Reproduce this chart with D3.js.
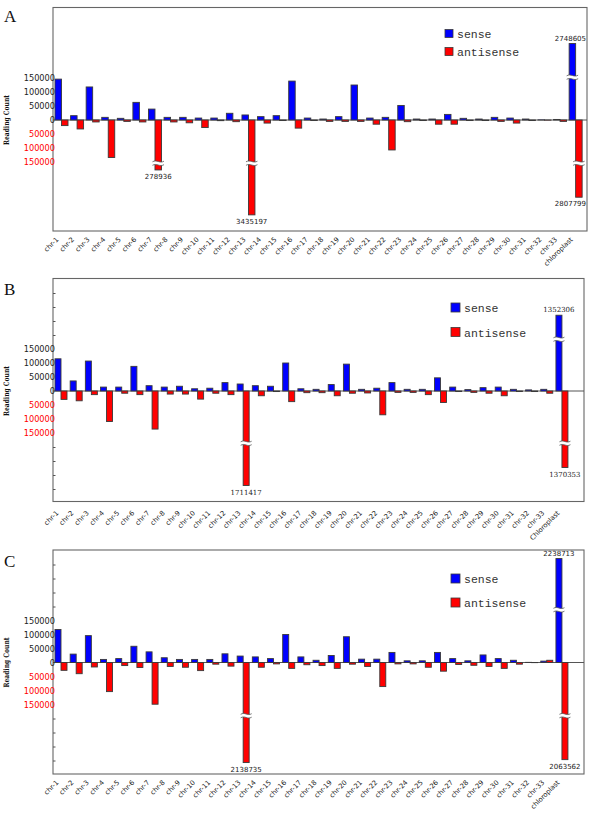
<!DOCTYPE html>
<html><head><meta charset="utf-8">
<script src="https://cdn.jsdelivr.net/npm/d3@7"></script>
<style>body{margin:0;background:#fff}svg{display:block}</style>
</head><body>
<svg id="chart" width="600" height="815"></svg>
<script>
const chromosomes = ['chr-1','chr-2','chr-3','chr-4','chr-5','chr-6','chr-7','chr-8','chr-9','chr-10',
  'chr-11','chr-12','chr-13','chr-14','chr-15','chr-16','chr-17','chr-18','chr-19','chr-20',
  'chr-21','chr-22','chr-23','chr-24','chr-25','chr-26','chr-27','chr-28','chr-29','chr-30',
  'chr-31','chr-32','chr-33'];
const categoriesA = chromosomes.concat(['chloroplast']);
const categoriesB = chromosomes.concat(['Chloroplast']);
const categoriesC = chromosomes.concat(['chloroplast']);

const seriesNames = ['sense', 'antisense'];

// Panel A
const senseA = [146000, 15500, 118000, 9500, 6000, 63000, 39000, 9500, 9500, 7000,
  7000, 24000, 18000, 12000, 15500, 139000, 7000, 3500, 12000, 125000,
  7000, 9500, 52000, 3500, 3500, 20000, 6000, 3500, 9500, 7000,
  3500, 500, 2000, 2748605];
const antisenseA = [-20000, -32000, -7000, -134000, -5000, -7000, -278936, -7000, -10000, -27000,
  -2400, -6000, -3435197, -11000, -2000, -29000, -2000, -5000, -5000, -5000,
  -15000, -107000, -6000, -2000, -15000, -15000, -2000, -2000, -5000, -11000,
  -2000, -500, -5000, -2807799];

// Panel B
const senseB = [115000, 36000, 107000, 14000, 14000, 88000, 19000, 14000, 17000, 8000,
  10000, 30000, 25000, 19000, 17000, 100000, 8000, 6000, 23000, 96000,
  6000, 10000, 30000, 6000, 6000, 47000, 14000, 5000, 12000, 14000,
  6000, 4000, 6000, 1352306];
const antisenseB = [-30000, -35000, -13000, -109000, -8000, -13000, -136000, -11000, -11000, -29000,
  -8000, -13000, -1711417, -17000, -2000, -38000, -6000, -6000, -17000, -8000,
  -7000, -85000, -5000, -5000, -13000, -41000, -2000, -5000, -8000, -17000,
  -2000, -2000, -8000, -1370353];

// Panel C
const senseC = [118000, 30000, 96000, 11000, 14000, 58000, 38000, 17000, 11000, 11000,
  11000, 31000, 23000, 20000, 14000, 100000, 20000, 8000, 25000, 92000,
  12000, 12000, 36000, 6000, 6000, 36000, 14000, 6000, 27000, 14000,
  8000, 500, 5000, 2238713];
const antisenseC = [-28000, -40000, -16000, -104000, -11000, -18000, -149000, -14000, -17000, -29000,
  -6000, -13000, -2138735, -17000, -5000, -21000, -8000, -11000, -21000, -6000,
  -14000, -86000, -5000, -5000, -17000, -31000, -7000, -10000, -14000, -21000,
  -6000, -500, 8000, -2063562];

const yTickValues = [150000, 100000, 50000, 0, -50000, -100000, -150000];
const yMinorTicks = [350000, 300000, 250000, 200000, -200000, -250000, -300000, -350000];
const breakThreshold = 150000;

const svg = d3.select('#chart');
const BLUE = '#0000ff', RED = '#ff0000', EDGE = '#3a3a3a';

function drawPanel(cfg) {
  const g = svg.append('g');
  const cats = cfg.cats;
  // broken (polylinear) y scale
  const mags = cfg.magStops, pxs = cfg.pxStops;
  const dom = mags.slice(1).reverse().map(v => -v).concat(mags);
  const rng = pxs.slice(1).reverse().map(p => cfg.zero + p).concat(pxs.map(p => cfg.zero - p));
  const y = d3.scaleLinear().domain(dom).range(rng);
  const yLin = d3.scaleLinear().domain([-150000, 150000]).range([cfg.zero + 42, cfg.zero - 42]);

  const x = d3.scaleBand().domain(cats).range([cfg.left, cfg.left + cats.length * cfg.step]).padding(0);
  const xs = d3.scaleBand().domain(seriesNames).range([cfg.barOff, cfg.barOff + 2 * cfg.barW]).padding(0);

  // frame
  g.append('rect').attr('x', cfg.left).attr('y', cfg.top)
    .attr('width', cfg.right - cfg.left).attr('height', cfg.bottom - cfg.top)
    .attr('fill', 'none').attr('stroke', '#666').attr('stroke-width', 1.1);

  // zero line
  g.append('line').attr('x1', cfg.left).attr('x2', cfg.right)
    .attr('y1', y(0)).attr('y2', y(0)).attr('stroke', '#555').attr('stroke-width', 1);

  // minor ticks
  if (cfg.minor) {
    const ma = g.append('g').attr('transform', `translate(${cfg.left},0)`)
      .call(d3.axisLeft(yLin).tickValues(yMinorTicks).tickSize(-2.5).tickFormat(''));
    ma.select('.domain').remove();
    ma.selectAll('line').attr('stroke', '#555');
  }

  // y axis labels
  const ax = g.append('g').attr('transform', `translate(${cfg.left},0)`)
    .call(d3.axisLeft(y).tickValues(yTickValues).tickSize(0).tickPadding(-2)
      .tickFormat(d => String(Math.abs(d))));
  ax.select('.domain').remove();
  ax.selectAll('text').attr('font-family', 'DejaVu Sans').attr('font-size', 8.2)
    .attr('fill', d => d < 0 ? RED : '#222');

  // y title
  g.append('text').attr('transform', `translate(${cfg.titleX},${cfg.zero}) rotate(-90)`)
    .attr('text-anchor', 'middle').attr('font-family', 'DejaVu Serif').attr('font-weight', 'bold')
    .attr('font-size', 7.5).attr('textLength', 50).attr('lengthAdjust', 'spacingAndGlyphs')
    .attr('fill', '#111').text('Reading Count');

  // panel letter
  g.append('text').attr('x', 4).attr('y', cfg.letterY)
    .attr('font-family', 'Liberation Serif').attr('font-size', 17).attr('fill', '#111')
    .text(cfg.letter);

  // bars
  const rows = cats.map((c, i) => ({ c, s: cfg.sense[i], a: cfg.anti[i] }));
  const bars = [];
  rows.forEach(r => {
    bars.push({ c: r.c, k: 'sense', v: r.s });
    bars.push({ c: r.c, k: 'antisense', v: r.a });
  });
  g.append('g').selectAll('rect').data(bars).join('rect')
    .attr('x', d => x(d.c) + xs(d.k))
    .attr('width', xs.bandwidth())
    .attr('y', d => Math.min(y(d.v), y(0)))
    .attr('height', d => Math.abs(y(d.v) - y(0)))
    .attr('fill', d => d.k === 'sense' ? BLUE : RED)
    .attr('stroke', EDGE).attr('stroke-width', 0.9);

  // break marks and value labels for broken bars
  const broken = bars.filter(d => Math.abs(d.v) > breakThreshold);
  broken.forEach(d => {
    const bx = x(d.c) + xs(d.k), w = xs.bandwidth();
    const yb = d.v > 0 ? y(0) - cfg.breakPx : y(0) + cfg.breakPx;
    const x1 = bx - 2.5, x2 = bx + w + 2.5;
    const top = `M${x1},${yb - 1.2} C${bx + w * 0.3},${yb - 3.8} ${bx + w * 0.7},${yb + 0.8} ${x2},${yb - 1.8}`;
    const bot = `M${x1},${yb + 2.3} C${bx + w * 0.3},${yb - 0.3} ${bx + w * 0.7},${yb + 4.3} ${x2},${yb + 1.7}`;
    g.append('path')
      .attr('d', `${top} L${x2},${yb + 1.7} C${bx + w * 0.7},${yb + 4.3} ${bx + w * 0.3},${yb - 0.3} ${x1},${yb + 2.3} Z`)
      .attr('fill', '#fff').attr('stroke', 'none');
    g.append('path').attr('d', top).attr('fill', 'none').attr('stroke', '#555').attr('stroke-width', 0.8);
    g.append('path').attr('d', bot).attr('fill', 'none').attr('stroke', '#555').attr('stroke-width', 0.8);

    const t = g.append('text')
      .attr('x', bx + w / 2)
      .attr('y', d.v > 0 ? y(d.v) - 3 : y(d.v) + 9)
      .attr('text-anchor', 'middle')
      .attr('font-family', cfg.valueFont).attr('font-size', 7)
      .attr('fill', '#222').text(String(Math.abs(d.v)));
    const tw = t.node().getComputedTextLength();
    const cx = Math.min(bx + w / 2, cfg.right - 1 - tw / 2);
    t.attr('x', cx);
  });

  // x labels
  g.append('g').selectAll('text').data(cats).join('text')
    .attr('transform', d => `translate(${x(d) + 6},${cfg.bottom + cfg.labelDy}) rotate(-45)`)
    .attr('text-anchor', 'end')
    .attr('font-family', 'DejaVu Sans').attr('font-size', 6.8).attr('fill', '#222')
    .text(d => d);

  // legend
  const lg = g.append('g');
  seriesNames.forEach((s, i) => {
    const ly = cfg.legY + i * cfg.legGap;
    lg.append('rect').attr('x', cfg.legX).attr('y', ly)
      .attr('width', cfg.legSq).attr('height', cfg.legSq)
      .attr('fill', s === 'sense' ? BLUE : RED).attr('stroke', EDGE).attr('stroke-width', 0.8);
    lg.append('text').attr('x', cfg.legX + cfg.legSq + 4).attr('y', ly + cfg.legSq)
      .attr('font-family', 'Liberation Mono').attr('font-size', 11.5).attr('fill', '#333')
      .text(s);
  });
}

drawPanel({ letter: 'A', letterY: 21.5, cats: categoriesA, sense: senseA, anti: antisenseA,
  top: 7.5, bottom: 231, left: 53, right: 587, zero: 120, step: 15.58, barOff: 2, barW: 6.5,
  breakPx: 43, magStops: [0, 150000, 280000, 2800000, 3440000], pxStops: [0, 42, 50, 77, 95],
  minor: false, titleX: 9, labelDy: 9, valueFont: 'DejaVu Sans',
  legX: 445, legY: 29.5, legGap: 18, legSq: 8 });

drawPanel({ letter: 'B', letterY: 295, cats: categoriesB, sense: senseB, anti: antisenseB,
  top: 278.5, bottom: 501.5, left: 53, right: 584, zero: 391, step: 15.18, barOff: 2, barW: 6,
  breakPx: 52, magStops: [0, 150000, 1360000, 1720000], pxStops: [0, 42, 76, 95],
  minor: true, titleX: 9, labelDy: 12, valueFont: 'DejaVu Serif',
  legX: 451, legY: 303, legGap: 24.5, legSq: 9 });

drawPanel({ letter: 'C', letterY: 566.5, cats: categoriesC, sense: senseC, anti: antisenseC,
  top: 550, bottom: 774, left: 53, right: 584, zero: 662.5, step: 15.18, barOff: 2, barW: 6,
  breakPx: 53, magStops: [0, 150000, 2060000, 2240000], pxStops: [0, 42, 97, 104],
  minor: true, titleX: 9, labelDy: 9, valueFont: 'DejaVu Sans',
  legX: 451, legY: 574, legGap: 24, legSq: 9 });
</script>
</body></html>
